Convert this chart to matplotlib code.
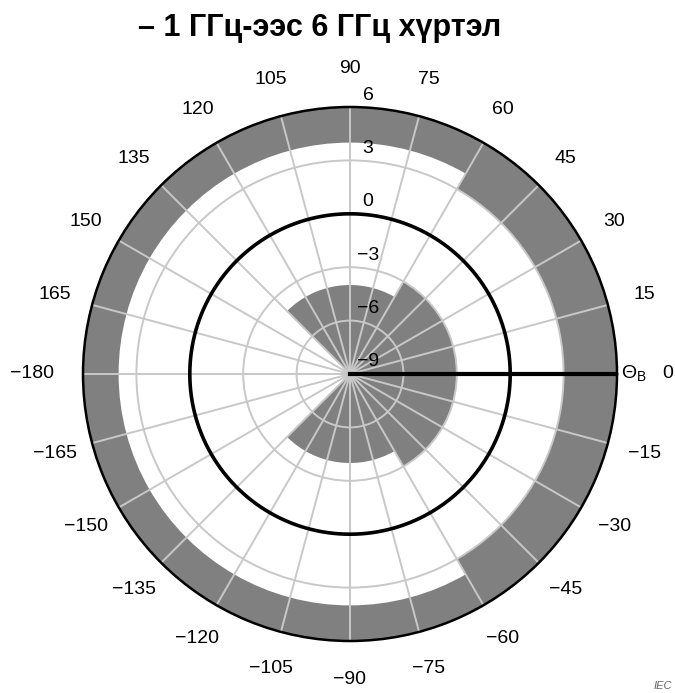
import numpy as np
import matplotlib
matplotlib.use("Agg")
import matplotlib.pyplot as plt

plt.rcParams['font.family'] = ['Liberation Sans', 'DejaVu Sans']
plt.rcParams['mathtext.fontset'] = 'custom'
plt.rcParams['mathtext.rm'] = 'Liberation Sans'

# Radial scale (dB) and angle ticks (degrees)
r_min, r_max = -9, 6
r_ticks = [6, 3, 0, -3, -6, -9]
r_tick_labels = ["6", "3", "0", "\u22123", "\u22126", "\u22129"]
theta_ticks = [0, 15, 30, 45, 60, 75, 90, 105, 120, 135, 150, 165,
               180, 195, 210, 225, 240, 255, 270, 285, 300, 315, 330, 345]
theta_tick_labels = ["0", "15", "30", "45", "60", "75", "90", "105", "120", "135",
                     "150", "165", "\u2212180", "\u2212165", "\u2212150", "\u2212135",
                     "\u2212120", "\u2212105", "\u221290", "\u221275", "\u221260",
                     "\u221245", "\u221230", "\u221215"]

# Inner shaded sectors: start angle, end angle, upper level (from the centre at -9 dB)
inner_start = [-60, 60, -135]
inner_end = [60, 135, -60]
inner_top = [-3, -4, -4]

# Outer shaded band: start angle, end angle, lower level (up to +6 dB)
outer_start = [-60, 60]
outer_end = [60, 300]
outer_bottom = [3, 4]

grey = '#808080'
grid_grey = '#c8c8c8'

fig = plt.figure(figsize=(6.75, 6.93), dpi=100)
cx, cy, R = 350, 374, 267
W, H = 675, 693
ax = fig.add_axes([(cx - R) / W, (H - cy - R) / H, 2 * R / W, 2 * R / H], projection='polar')
ax.set_ylim(r_min, r_max)

for s, e, t in zip(inner_start, inner_end, inner_top):
    w = np.deg2rad(e - s)
    ax.bar(np.deg2rad(s) + w / 2, t - r_min, width=w, bottom=r_min,
           color=grey, edgecolor='none', linewidth=0, zorder=1)
for s, e, b in zip(outer_start, outer_end, outer_bottom):
    w = np.deg2rad(e - s)
    ax.bar(np.deg2rad(s) + w / 2, r_max - b, width=w, bottom=b,
           color=grey, edgecolor='none', linewidth=0, zorder=1)

ax.set_thetagrids(theta_ticks, labels=[''] * len(theta_ticks))
ax.set_rgrids([-6, -3, 3], labels=['', '', ''])
ax.grid(True, color=grid_grey, linewidth=1.4)
ax.spines['polar'].set_color('black')
ax.spines['polar'].set_linewidth(1.8)

# 0 dB reference circle and the boresight direction
th = np.linspace(0, 2 * np.pi, 721)
ax.plot(th, np.zeros_like(th), color='black', linewidth=2.6, zorder=3)
ax.plot([0, 0], [r_min, r_max], color='black', linewidth=3, zorder=3)

# Angle labels around the rim (horizontal ones sit a little further out)
for a, lbl in zip(theta_ticks, theta_tick_labels):
    r_lbl = 8.85 if a in (0, 180) else 8.15
    ax.text(np.deg2rad(a), r_lbl, lbl, ha='center', va='center', fontsize=14)

# Level labels next to the 90 degree spoke
for r, lbl in zip(r_ticks, r_tick_labels):
    ax.annotate(lbl, xy=(np.pi / 2, r), xytext=(18, 12), textcoords='offset pixels',
                ha='center', va='center', fontsize=14)

ax.text(0, 6.95, '\u0398$_{\\rm B}$', ha='center', va='center', fontsize=14)

fig.text(320 / W, 1 - 28 / H, '\u2013 1 \u0413\u0413\u0446-\u044d\u044d\u0441 6 \u0413\u0413\u0446 \u0445\u04af\u0440\u0442\u044d\u043b',
         ha='center', va='center', fontsize=22, fontweight='bold')
fig.text(672 / W, 2 / H, 'IEC', ha='right', va='bottom', fontsize=8,
         style='italic', color='#666666')

fig.savefig('out.png', dpi=100)
